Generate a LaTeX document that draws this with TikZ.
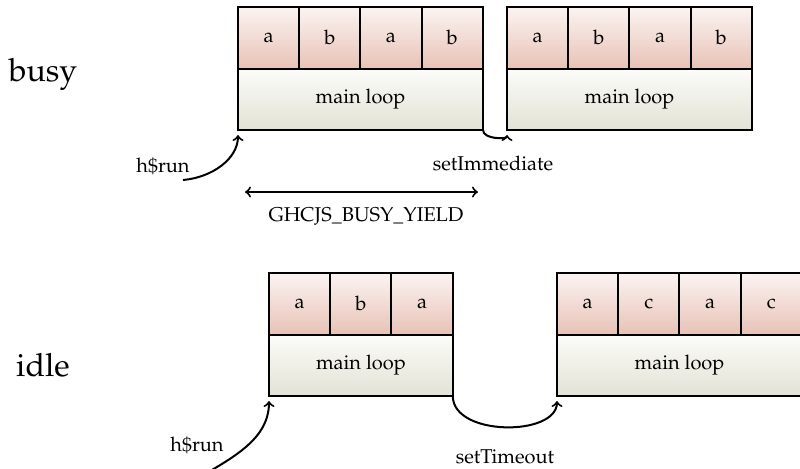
\documentclass[tikz,border=0pt]{standalone}
\usepackage[T1]{fontenc}
\usepackage{mathpazo}
\usetikzlibrary{positioning}
\definecolor{CellTop}{RGB}{251,244,242}
\definecolor{CellBot}{RGB}{232,194,182}
\definecolor{LoopTop}{RGB}{252,252,249}
\definecolor{LoopBot}{RGB}{226,226,213}
\tikzset{cell/.style={draw=black,line width=1pt,top color=CellTop,bottom color=CellBot,minimum width=30.6pt,minimum height=30.75pt,inner sep=0pt,outer sep=0pt}, loopbox/.style={draw=black,line width=1pt,top color=LoopTop,bottom color=LoopBot,minimum height=30.75pt,inner sep=0pt,outer sep=0pt},call/.style={->,line width=1pt,shorten >=2.5pt},mode/.style={font=\fontsize{16}{19}\selectfont}}

\begin{document}
\begin{tikzpicture}[x=0.5pt,y=-0.5pt]
\useasboundingbox (0,0) rectangle (800,468);
% busy
\node[mode] (busy) at (43,74) {busy};
\node[cell,anchor=north west] (ba1) at (238,7) {a};
\node[cell,right=0pt of ba1] (bb1) {b};
\node[cell,right=0pt of bb1] (ba2) {a};
\node[cell,right=0pt of ba2] (bb2) {b};
\node[loopbox,minimum width=122.5pt,anchor=north west] (bml1) at (ba1.south west) {main loop};
\node[cell,anchor=north west] (ba3) at (507,7) {a};
\node[cell,right=0pt of ba3] (bb3) {b};
\node[cell,right=0pt of bb3] (ba4) {a};
\node[cell,right=0pt of ba4] (bb4) {b};
\node[loopbox,minimum width=122.5pt,anchor=north west] (bml2) at (ba3.south west) {main loop};
\node (hrb) at (163,166) {h\$run};
\coordinate (hrbs) at (183,180);
\draw[call] (hrbs) to[out=5,in=-90] (bml1.south west);
\draw[call] (bml1.south east) to[out=-90,in=-90] (bml2.south west);
\node (si) at (493,163) {setImmediate};
\coordinate (yl) at (245,192);
\coordinate (yr) at (478,192);
\draw[<->,line width=1pt] (yl) -- (yr);
\node (yield) at (366,216) {GHCJS\_BUSY\_YIELD};
% idle
\node[mode] (idle) at (43,365) {idle};
\node[cell,anchor=north west] (ia1) at (269,273) {a};
\node[cell,right=0pt of ia1] (ib1) {b};
\node[cell,right=0pt of ib1] (ia2) {a};
\node[loopbox,minimum width=91.9pt,anchor=north west] (iml1) at (ia1.south west) {main loop};
\node[cell,anchor=north west] (ia3) at (557,273) {a};
\node[cell,right=0pt of ia3] (ic1) {c};
\node[cell,right=0pt of ic1] (ia4) {a};
\node[cell,right=0pt of ia4] (ic2) {c};
\node[loopbox,minimum width=122.5pt,anchor=north west] (iml2) at (ia3.south west) {main loop};
\node (hri) at (197,445) {h\$run};
\coordinate (hris) at (198,478);
\draw[call] (hris) to[out=30,in=-90] (iml1.south west);
\draw[call] (iml1.south east) to[out=-90,in=-90] (iml2.south west);
\node (st) at (505,457) {setTimeout};
\end{tikzpicture}
\end{document}
